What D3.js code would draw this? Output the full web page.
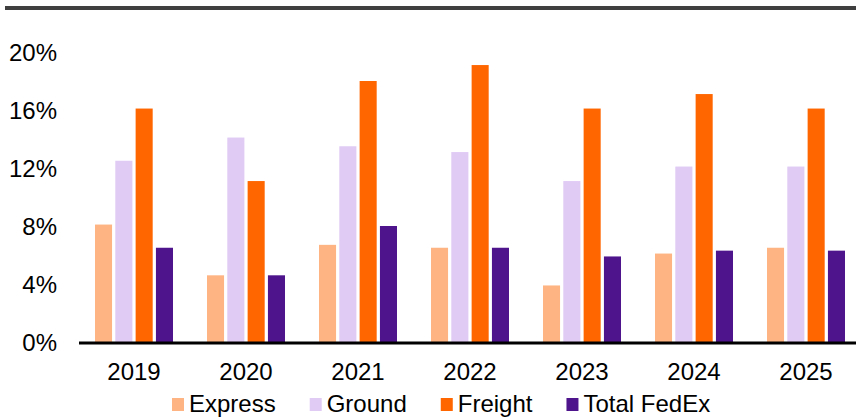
<!DOCTYPE html>
<html>
<head>
<meta charset="utf-8">
<script src="https://cdn.jsdelivr.net/npm/d3@7"></script>
<style>
  html, body { margin: 0; padding: 0; background: #fff; }
  svg { display: block; }
  text { font-family: "Liberation Sans", Arial, sans-serif; fill: #000; }
</style>
</head>
<body>
<svg id="chart" width="856" height="417"></svg>
<script>
const years = ["2019", "2020", "2021", "2022", "2023", "2024", "2025"];
const seriesNames = ["Express", "Ground", "Freight", "Total FedEx"];
const express = [8.1, 4.6, 6.7, 6.5, 3.9, 6.1, 6.5];
const ground = [12.5, 14.1, 13.5, 13.1, 11.1, 12.1, 12.1];
const freight = [16.1, 11.1, 18.0, 19.1, 16.1, 17.1, 16.1];
const totalFedEx = [6.5, 4.6, 8.0, 6.5, 5.9, 6.3, 6.3];
const yTicks = [0, 4, 8, 12, 16, 20];
const colors = ["#FFB583", "#E0CBF5", "#FF6600", "#4D148C"];

const seriesValues = [express, ground, freight, totalFedEx];

const svg = d3.select("#chart");
const fontSize = 24;

// top rule
svg.append("rect").attr("x", 5).attr("y", 6).attr("width", 851).attr("height", 4).attr("fill", "#3f3f3f");

const x0 = d3.scaleBand().domain(years).range([78, 862]).padding(0);
const x1 = d3.scaleBand().domain(seriesNames).range([17, 95]).paddingInner(0.16).paddingOuter(0);
const y = d3.scaleLinear().domain([0, 20]).range([342, 52]);
const color = d3.scaleOrdinal().domain(seriesNames).range(colors);

// y axis labels
const yAxis = d3.axisLeft(y).tickValues(yTicks).tickFormat(d => d + "%").tickSize(0).tickPadding(0);
const gy = svg.append("g").attr("transform", "translate(57,0)").call(yAxis);
gy.select(".domain").remove();
gy.selectAll("text").attr("font-size", fontSize).attr("font-family", "Liberation Sans, Arial, sans-serif").attr("fill", "#000").attr("dy", "0.35em");

// bars
const groups = svg.append("g").selectAll("g").data(years).join("g")
  .attr("transform", d => `translate(${x0(d)},0)`);
groups.selectAll("rect")
  .data((d, i) => seriesNames.map((s, j) => ({ s, v: seriesValues[j][i] })))
  .join("rect")
  .attr("x", d => x1(d.s))
  .attr("width", x1.bandwidth())
  .attr("y", d => y(d.v))
  .attr("height", d => y(0) - y(d.v))
  .attr("fill", d => color(d.s));

// x axis
const xAxis = d3.axisBottom(x0).tickSize(0).tickPadding(0);
const gx = svg.append("g").attr("transform", "translate(0,343)").call(xAxis);
gx.select(".domain").remove();
gx.selectAll("text").attr("font-size", fontSize).attr("font-family", "Liberation Sans, Arial, sans-serif").attr("fill", "#000").attr("dy", null).attr("y", 37);
svg.append("line").attr("x1", 79).attr("x2", 856).attr("y1", 343).attr("y2", 343)
  .attr("stroke", "#000").attr("stroke-width", 3);

// legend
const legend = svg.append("g");
let lx = 172;
seriesNames.forEach((s, i) => {
  legend.append("rect").attr("x", lx).attr("y", 398).attr("width", 12).attr("height", 13).attr("fill", colors[i]);
  const t = legend.append("text").attr("x", lx + 17).attr("y", 412).attr("font-size", fontSize).text(s);
  const w = t.node().getComputedTextLength();
  lx = lx + 17 + w + 34;
});
</script>
</body>
</html>
